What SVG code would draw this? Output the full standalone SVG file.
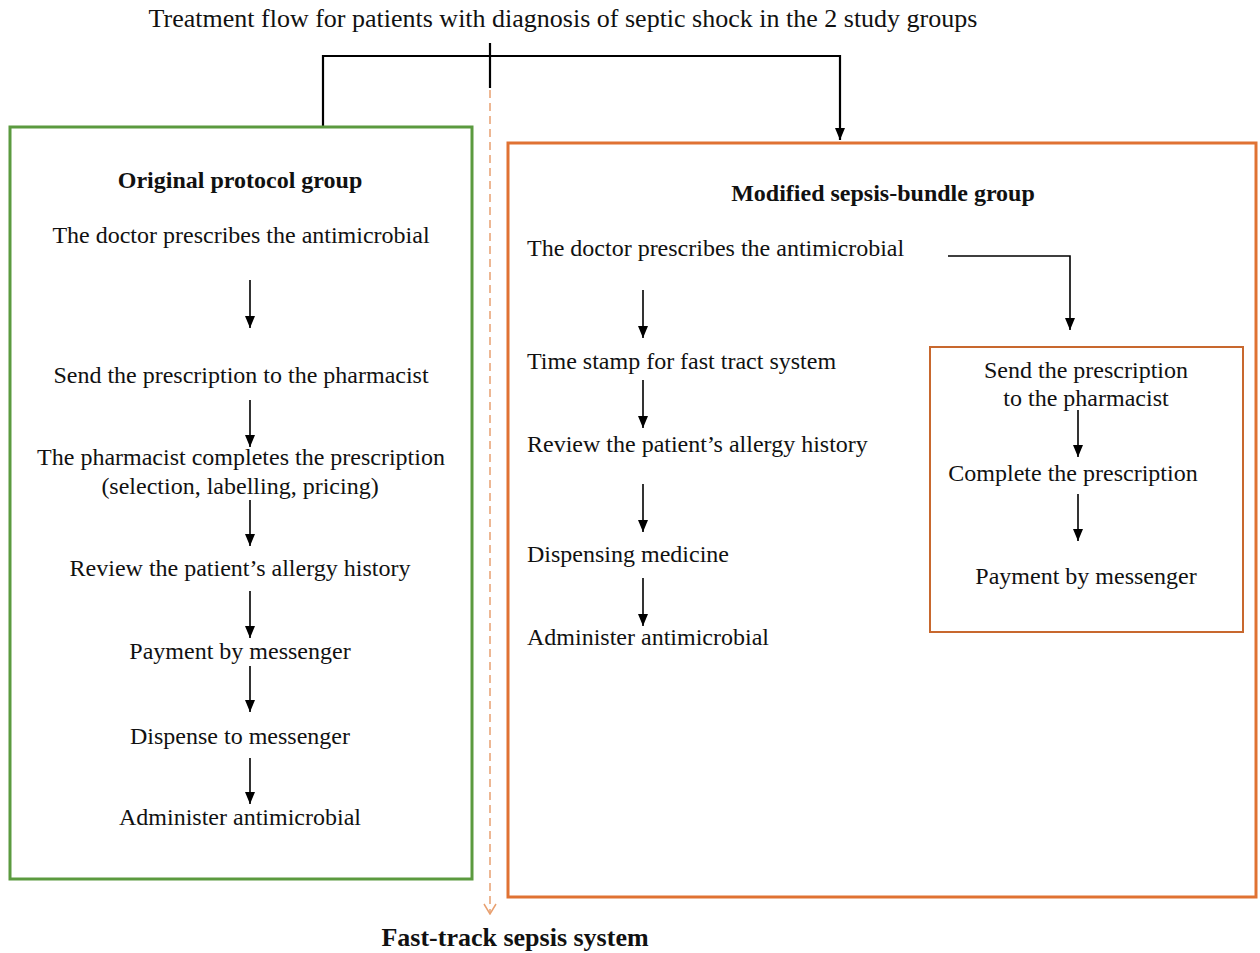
<svg xmlns="http://www.w3.org/2000/svg" width="1260" height="953" viewBox="0 0 1260 953">
<defs>
<marker id="ah" viewBox="0 0 12 10" refX="12" refY="5" markerWidth="12" markerHeight="10" markerUnits="userSpaceOnUse" orient="auto">
<path d="M0,0 L12,5 L0,10 Z" fill="#000"/>
</marker>
<marker id="oh" viewBox="0 0 12 14" refX="11" refY="7" markerWidth="12" markerHeight="14" markerUnits="userSpaceOnUse" orient="auto">
<path d="M1,1 L11,7 L1,13" fill="none" stroke="#e8a070" stroke-width="1.5"/>
</marker>
</defs>
<style>
text{font-family:"Liberation Serif","Times New Roman",serif;font-size:24px;fill:#111}
.b{font-weight:bold}
.c{text-anchor:middle}
.ln{fill:none;stroke:#000;stroke-width:1.6}
.ar{fill:none;stroke:#000;stroke-width:1.6;marker-end:url(#ah)}
</style>
<rect width="1260" height="953" fill="#fff"/>
<text id="title" x="563" y="27" class="c" style="font-size:26px">Treatment flow for patients with diagnosis of septic shock in the 2 study groups</text>
<g id="connectors">
<path class="ln" d="M323,127 V56 H840 V140" style="marker-end:url(#ah);stroke-width:2.2"/>
<path class="ln" d="M490,43 V88" style="stroke-width:2.2"/>
<path d="M490,90 V914" fill="none" stroke="#e8a070" stroke-width="1.5" stroke-dasharray="8,5" marker-end="url(#oh)"/>
<path class="ar" d="M250,280 V328"/>
<path class="ar" d="M250,400 V447"/>
<path class="ar" d="M250,500 V546"/>
<path class="ar" d="M250,591 V638"/>
<path class="ar" d="M250,666 V712"/>
<path class="ar" d="M250,758 V804"/>
<path class="ar" d="M643,290 V338"/>
<path class="ar" d="M643,380 V428"/>
<path class="ar" d="M643,484 V532"/>
<path class="ar" d="M643,578 V626"/>
<path class="ar" d="M948,256 H1070 V330"/>
<path class="ar" d="M1078,410 V457"/>
<path class="ar" d="M1078,494 V541"/>
</g>
<g id="original-group">
<rect x="10" y="127" width="462" height="752" fill="none" stroke="#5b9a3f" stroke-width="3"/>
<text x="240" y="188" class="c b">Original protocol group</text>
<text x="241" y="243" class="c">The doctor prescribes the antimicrobial</text>
<text x="241" y="383" class="c">Send the prescription to the pharmacist</text>
<text x="241" y="465" class="c">The pharmacist completes the prescription</text>
<text x="240" y="494" class="c">(selection, labelling, pricing)</text>
<text x="240" y="576" class="c">Review the patient’s allergy history</text>
<text x="240" y="659" class="c">Payment by messenger</text>
<text x="240" y="744" class="c">Dispense to messenger</text>
<text x="240" y="825" class="c">Administer antimicrobial</text>
</g>
<g id="modified-group">
<rect x="508" y="143" width="748" height="754" fill="none" stroke="#e07233" stroke-width="3"/>
<text x="883" y="201" class="c b">Modified sepsis-bundle group</text>
<text x="527" y="256">The doctor prescribes the antimicrobial</text>
<text x="527" y="369">Time stamp for fast tract system</text>
<text x="527" y="452">Review the patient’s allergy history</text>
<text x="527" y="562">Dispensing medicine</text>
<text x="527" y="645">Administer antimicrobial</text>
</g>
<g id="pharmacy-box">
<rect x="930" y="347" width="313" height="285" fill="none" stroke="#c8682e" stroke-width="2"/>
<text x="1086" y="378" class="c">Send the prescription</text>
<text x="1086" y="406" class="c">to the pharmacist</text>
<text x="1073" y="481" class="c">Complete the prescription</text>
<text x="1086" y="584" class="c">Payment by messenger</text>
</g>
<text id="fast-track" x="515" y="946" class="c b" style="font-size:26px">Fast-track sepsis system</text>
</svg>
